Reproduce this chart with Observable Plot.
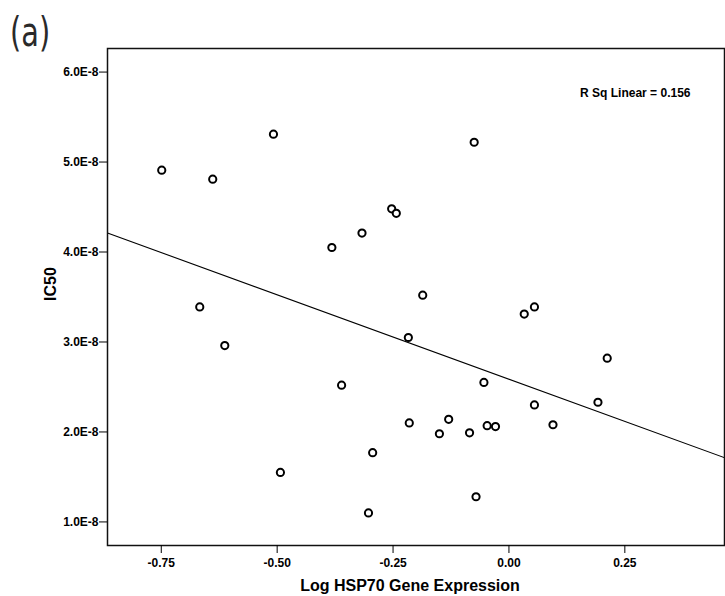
<!DOCTYPE html>
<html>
<head>
<meta charset="utf-8">
<script src="https://cdn.jsdelivr.net/npm/d3@7"></script>
<script src="https://cdn.jsdelivr.net/npm/@observablehq/plot@0.6"></script>
<style>
  html, body { margin: 0; padding: 0; background: #fff; }
  #wrap { position: relative; width: 725px; height: 596px; }
  #panel { position: absolute; left: 10px; top: 12px; font-family: "DejaVu Sans", sans-serif; font-size: 40px; color: #2a2a2a; line-height: 1; transform: scaleX(0.72); transform-origin: 0 0; }
</style>
</head>
<body>
<div id="wrap"><div id="panel">(a)</div></div>
<script>
const logHsp70 = [-0.749, -0.639, -0.508, -0.667, -0.613, -0.493, -0.382, -0.317, -0.253, -0.243,
  -0.186, -0.217, -0.361, -0.303, -0.294, -0.215, -0.150, -0.130, -0.085, -0.075,
  -0.071, -0.054, -0.047, -0.029, 0.033, 0.055, 0.055, 0.095, 0.192, 0.212];
const ic50 = [4.91e-8, 4.81e-8, 5.31e-8, 3.39e-8, 2.96e-8, 1.55e-8, 4.05e-8, 4.21e-8, 4.48e-8, 4.43e-8,
  3.52e-8, 3.05e-8, 2.52e-8, 1.10e-8, 1.77e-8, 2.10e-8, 1.98e-8, 2.14e-8, 1.99e-8, 5.22e-8,
  1.28e-8, 2.55e-8, 2.07e-8, 2.06e-8, 3.31e-8, 3.39e-8, 2.30e-8, 2.08e-8, 2.33e-8, 2.82e-8];
const xTicks = [-0.75, -0.5, -0.25, 0, 0.25];
const yTicks = [1e-8, 2e-8, 3e-8, 4e-8, 5e-8, 6e-8];
const xDomain = [-0.866, 0.465];
const yDomain = [0.738e-8, 6.262e-8];
const rSqLabel = "R Sq Linear = 0.156";

const points = logHsp70.map((x, i) => ({x, y: ic50[i]}));
const mx = d3.mean(logHsp70), my = d3.mean(ic50);
const slope = d3.sum(points, d => (d.x - mx) * (d.y - my)) / d3.sum(points, d => (d.x - mx) ** 2);
const intercept = my - slope * mx;
const fit = xDomain.map(x => ({x, y: intercept + slope * x}));

const font = "'Liberation Sans', Arial, sans-serif";
const chart = Plot.plot({
  width: 725,
  height: 596,
  marginLeft: 107,
  marginTop: 48,
  marginRight: 1,
  marginBottom: 51,
  style: {fontFamily: font, fontSize: "12px", fontWeight: "bold", color: "#000", background: "transparent"},
  x: {domain: xDomain, ticks: xTicks, tickFormat: d => d.toFixed(2), label: null},
  y: {domain: yDomain, ticks: yTicks, tickFormat: d => (d * 1e8).toFixed(1) + "E-8", label: null},
  marks: [
    Plot.line(fit, {x: "x", y: "y", stroke: "#000", strokeWidth: 1.1, clip: true}),
    Plot.dot(points, {x: "x", y: "y", r: 3.6, stroke: "#000", strokeWidth: 2, fill: "#fff"}),
    Plot.frame({stroke: "#111", strokeWidth: 1.5}),
    Plot.axisX({ticks: xTicks, tickFormat: d => d.toFixed(2), tickSize: 8, tickPadding: 5, label: null, fontWeight: "bold", fontSize: 12}),
    Plot.axisY({ticks: yTicks, tickFormat: d => (d * 1e8).toFixed(1) + "E-8", tickSize: 8, tickPadding: 1, label: null, fontWeight: "bold", fontSize: 12}),
    Plot.text([rSqLabel], {frameAnchor: "top-right", dx: -34, dy: 40, text: d => d, fontWeight: "bold", fontSize: 12}),
    Plot.text(["Log HSP70 Gene Expression"], {frameAnchor: "bottom", dx: -6, dy: 45, text: d => d, fontWeight: "bold", fontSize: 16, lineAnchor: "bottom"}),
    Plot.text(["IC50"], {frameAnchor: "left", dx: -57, dy: 4, rotate: -90, text: d => d, fontWeight: "bold", fontSize: 16})
  ]
});
document.getElementById("wrap").appendChild(chart);
</script>
</body>
</html>
